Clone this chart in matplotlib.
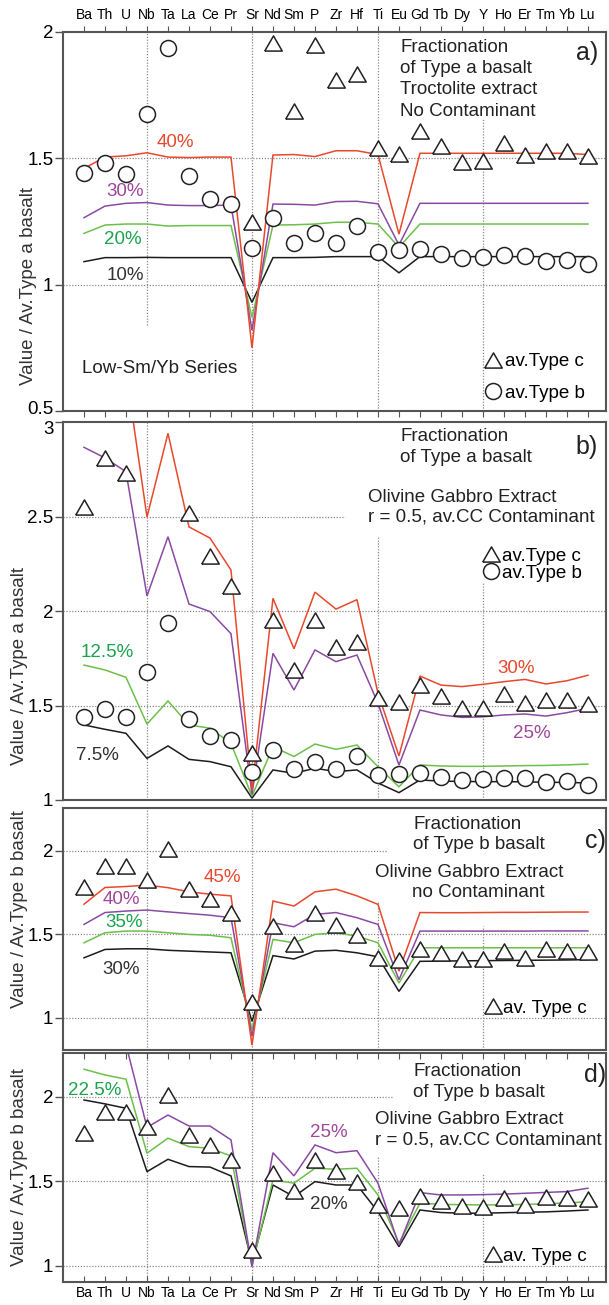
import numpy as np
import matplotlib
matplotlib.use("Agg")
import matplotlib.pyplot as plt
from matplotlib.lines import Line2D
from matplotlib.transforms import ScaledTranslation

plt.rcParams['font.family'] = ['Liberation Sans', 'DejaVu Sans']

nan = np.nan
elements = ["Ba", "Th", "U", "Nb", "Ta", "La", "Ce", "Pr", "Sr", "Nd", "Sm", "P",
            "Zr", "Hf", "Ti", "Eu", "Gd", "Tb", "Dy", "Y", "Ho", "Er", "Tm", "Yb", "Lu"]

# averages normalised to average Type a basalt
typec_vs_a = [2.55, 2.81, 2.73, nan, nan, 2.52, 2.29, 2.13, 1.25, 1.955, 1.686, 1.95, 1.81,
              1.834, 1.54, 1.516, 1.61, 1.55, 1.487, 1.488, 1.56, 1.512, 1.528, 1.528, 1.51]
typeb_vs_a = [1.44, 1.48, 1.437, 1.675, 1.935, 1.43, 1.34, 1.318, 1.146, 1.263, 1.164, 1.203,
              1.164, 1.232, 1.131, 1.137, 1.141, 1.121, 1.104, 1.111, 1.118, 1.114, 1.095,
              1.098, 1.082]
# average Type c normalised to average Type b basalt
typec_vs_b = [1.785, 1.91, 1.912, 1.823, 2.014, 1.773, 1.713, 1.627, 1.094, 1.551, 1.445,
              1.627, 1.559, 1.494, 1.36, 1.345, 1.414, 1.386, 1.354, 1.35, 1.40, 1.36, 1.41,
              1.40, 1.394]

# a) troctolite extract, no contaminant
a_10 = [1.091, 1.107, 1.107, 1.108, 1.107, 1.107, 1.107, 1.107, 0.93, 1.107, 1.107, 1.108,
        1.111, 1.111, 1.111, 1.047, 1.111, 1.111, 1.111, 1.111, 1.111, 1.111, 1.111, 1.111, 1.111]
a_20 = [1.203, 1.236, 1.24, 1.24, 1.232, 1.234, 1.234, 1.234, 0.87, 1.236, 1.237, 1.24,
        1.247, 1.247, 1.24, 1.148, 1.24, 1.24, 1.24, 1.24, 1.24, 1.24, 1.24, 1.24, 1.24]
a_30 = [1.265, 1.311, 1.322, 1.325, 1.315, 1.313, 1.313, 1.315, 0.82, 1.319, 1.318, 1.315,
        1.329, 1.33, 1.32, 1.157, 1.322, 1.322, 1.322, 1.322, 1.322, 1.322, 1.322, 1.322, 1.322]
a_40 = [1.46, 1.505, 1.51, 1.522, 1.505, 1.503, 1.505, 1.505, 0.75, 1.513, 1.515, 1.507,
        1.53, 1.53, 1.515, 1.2, 1.52, 1.52, 1.52, 1.52, 1.52, 1.52, 1.52, 1.52, 1.515]

# b) olivine gabbro extract, r = 0.5, av.CC contaminant (Type a parent)
b_7p5 = [1.397, 1.374, 1.353, 1.22, 1.286, 1.215, 1.203, 1.176, 1.01, 1.159, 1.141, 1.168,
         1.15, 1.159, 1.09, 1.039, 1.106, 1.10, 1.098, 1.097, 1.097, 1.096, 1.094, 1.093, 1.09]
b_12p5 = [1.714, 1.688, 1.649, 1.402, 1.524, 1.397, 1.38, 1.30, 1.02, 1.282, 1.23, 1.296,
          1.268, 1.291, 1.176, 1.07, 1.185, 1.18, 1.178, 1.178, 1.18, 1.182, 1.183, 1.186, 1.19]
b_25 = [2.866, 2.81, 2.737, 2.08, 2.393, 2.037, 1.997, 1.88, 1.03, 1.776, 1.582, 1.794,
        1.732, 1.767, 1.512, 1.185, 1.476, 1.45, 1.437, 1.44, 1.45, 1.455, 1.444, 1.462, 1.485]
b_30 = [3.3, 3.45, 3.27, 2.497, 2.94, 2.445, 2.386, 2.217, 1.05, 2.067, 1.80, 2.10,
        2.01, 2.06, 1.565, 1.233, 1.656, 1.608, 1.60, 1.612, 1.626, 1.638, 1.614, 1.631, 1.66]

# c) olivine gabbro extract, no contaminant (Type b parent)
c_30 = [1.36, 1.41, 1.414, 1.414, 1.405, 1.40, 1.395, 1.39, 0.98, 1.373, 1.353, 1.40,
        1.405, 1.39, 1.366, 1.159, 1.339, 1.34, 1.342, 1.343, 1.344, 1.345, 1.346, 1.347, 1.349]
c_35 = [1.45, 1.51, 1.52, 1.52, 1.51, 1.50, 1.495, 1.48, 0.93, 1.47, 1.45, 1.50,
        1.51, 1.49, 1.45, 1.209, 1.42, 1.42, 1.42, 1.42, 1.42, 1.42, 1.42, 1.42, 1.42]
c_40 = [1.56, 1.631, 1.64, 1.646, 1.635, 1.625, 1.615, 1.60, 0.89, 1.57, 1.546, 1.62,
        1.631, 1.60, 1.56, 1.229, 1.52, 1.52, 1.52, 1.52, 1.52, 1.52, 1.521, 1.521, 1.521]
c_45 = [1.681, 1.781, 1.787, 1.795, 1.78, 1.755, 1.741, 1.731, 0.837, 1.70, 1.67, 1.755,
        1.771, 1.731, 1.68, 1.28, 1.631, 1.63, 1.63, 1.631, 1.632, 1.632, 1.633, 1.634, 1.634]

# d) olivine gabbro extract, r = 0.5, av.CC contaminant (Type b parent)
d_20 = [1.982, 1.959, 1.933, 1.558, 1.631, 1.588, 1.585, 1.533, 1.016, 1.479, 1.41, 1.499,
        1.479, 1.479, 1.321, 1.114, 1.331, 1.316, 1.312, 1.312, 1.315, 1.318, 1.32, 1.325, 1.331]
d_22p5 = [2.164, 2.13, 2.105, 1.667, 1.756, 1.706, 1.696, 1.651, 1.0, 1.509, 1.49, 1.578,
          1.572, 1.578, 1.42, 1.134, 1.371, 1.365, 1.362, 1.361, 1.362, 1.364, 1.368, 1.373, 1.38]
d_25 = [2.36, 2.34, 2.31, 1.82, 1.893, 1.828, 1.828, 1.746, 0.996, 1.67, 1.533, 1.716,
        1.67, 1.682, 1.49, 1.124, 1.434, 1.42, 1.42, 1.422, 1.425, 1.43, 1.435, 1.44, 1.46]

RED, PURPLE, GREEN, BLACK = "#e8482c", "#8a4aa3", "#6cc04a", "#1c1c1c"
T_RED, T_PURPLE, T_GREEN, T_BLACK = "#e8482c", "#a0479a", "#1ba34e", "#333333"
GRID = "#8a8a8a"
SPINE = "#555555"
FS = 13.5

TRI = [(-1, -0.866), (1, -0.866), (0, 0.866), (-1, -0.866)]
x = np.arange(len(elements))

fig = plt.figure(figsize=(6.09, 13.05), dpi=100)
W, H = 609.0, 1305.0
left = 63 / W
width = 543 / W
boxes = {"a": (32, 411), "b": (422, 800), "c": (808, 1050), "d": (1053, 1282)}
axes = {}
for k, (top, bot) in boxes.items():
    axes[k] = fig.add_axes([left, 1 - bot / H, width, (bot - top) / H])

ylims = {"a": (0.5, 2.0), "b": (1.0, 3.0), "c": (0.808, 2.257), "d": (0.905, 2.26)}
yticks = {"a": [0.5, 1, 1.5, 2], "b": [1, 1.5, 2, 2.5, 3], "c": [1, 1.5, 2], "d": [1, 1.5, 2]}


def fmt(v):
    return ("%g" % v)


for k, ax in axes.items():
    ax.set_xlim(-1.0, 24.86)
    ax.set_ylim(*ylims[k])
    ax.set_yticks(yticks[k])
    ax.set_yticklabels([fmt(v) for v in yticks[k]], fontsize=FS)
    ax.tick_params(axis="y", direction="out", length=6, width=1.0, color=SPINE, pad=1)
    for s in ax.spines.values():
        s.set_color(SPINE)
        s.set_linewidth(1.5)
    ax.set_xticks(x)
    ax.tick_params(axis="x", which="both", bottom=False, top=False,
                   labelbottom=False, labeltop=False)

# keep the touching "0.5" and "3" labels apart at the a/b join
lab = axes["a"].get_yticklabels()[0]
lab.set_transform(lab.get_transform() + ScaledTranslation(0, 4 / 100, fig.dpi_scale_trans))
lab = axes["b"].get_yticklabels()[-1]
lab.set_transform(lab.get_transform() + ScaledTranslation(0, -6 / 100, fig.dpi_scale_trans))

gkw = dict(color=GRID, lw=0.9, ls=(0, (1, 1.3)), zorder=1)

# panel a gridlines
ax = axes["a"]
for yv in (1.0, 1.5):
    ax.axhline(yv, **gkw)
ax.vlines(3, 0.84, 2.0, **gkw)
ax.vlines(8, 0.5, 2.0, **gkw)
ax.vlines(14, 0.5, 2.0, **gkw)
ax.vlines(19, 0.5, 1.66, **gkw)
# panel b gridlines
ax = axes["b"]
ax.axhline(1.5, **gkw)
ax.axhline(2.0, **gkw)
ax.axhline(2.5, xmax=(345 - 63) / 543, **gkw)
ax.vlines(3, 1.0, 3.0, **gkw)
ax.vlines(8, 1.0, 3.0, **gkw)
ax.vlines(14, 1.0, 2.39, **gkw)
ax.vlines(19, 1.0, 2.15, **gkw)
# panel c gridlines
ax = axes["c"]
ax.axhline(1.0, **gkw)
ax.axhline(1.5, **gkw)
ax.axhline(2.0, xmax=(388 - 63) / 543, **gkw)
ax.vlines(3, 0.808, 2.257, **gkw)
ax.vlines(8, 0.808, 2.257, **gkw)
ax.vlines(14, 0.808, 1.70, **gkw)
ax.vlines(19, 0.808, 1.55, **gkw)
# panel d gridlines
ax = axes["d"]
ax.axhline(1.0, **gkw)
ax.axhline(1.5, **gkw)
ax.axhline(2.0, xmax=(392 - 63) / 543, **gkw)
ax.vlines(3, 0.905, 2.26, **gkw)
ax.vlines(8, 0.905, 2.26, **gkw)
ax.vlines(14, 0.905, 1.645, **gkw)
ax.vlines(19, 0.905, 1.55, **gkw)

lkw = dict(lw=1.1, zorder=2, solid_joinstyle="miter")
mk_tri = dict(marker=TRI, ms=12.6, mfc="white", mec="#222222", mew=1.1, ls="none", zorder=4)
mk_circ = dict(marker="o", ms=11.5, mfc="white", mec="#222222", mew=1.1, ls="none", zorder=4)

# ---- a)
ax = axes["a"]
for ys, c in ((a_10, BLACK), (a_20, GREEN), (a_30, PURPLE), (a_40, RED)):
    ax.plot(x, ys, color=c, **lkw)
ax.plot(x, typeb_vs_a, **mk_circ)
ax.plot(x, typec_vs_a, **mk_tri)
for s, yv in (("Fractionation", 1.9406), ("of Type a basalt", 1.8575),
              ("Troctolite extract", 1.7705), ("No Contaminant", 1.6834)):
    ax.text(15.05, yv, s, fontsize=FS, ha="left", va="center", color="#222")
ax.text(23.95, 1.917, "a)", fontsize=18, ha="center", va="center", color="#222")
ax.text(4.33, 1.561, "40%", fontsize=FS, color=T_RED, ha="center", va="center")
ax.text(1.98, 1.367, "30%", fontsize=FS, color=T_PURPLE, ha="center", va="center")
ax.text(1.87, 1.177, "20%", fontsize=FS, color=T_GREEN, ha="center", va="center")
ax.text(1.97, 1.038, "10%", fontsize=FS, color=T_BLACK, ha="center", va="center")
ax.text(-0.1, 0.670, "Low-Sm/Yb Series", fontsize=FS, ha="left", va="center", color="#222")
ax.set_ylabel("Value / Av.Type a basalt", fontsize=FS, color="#333")
ax.yaxis.set_label_coords(-0.048, 0.33)
ax.tick_params(axis="x", top=True, labeltop=True, direction="out", length=4,
               color=SPINE, labelsize=10, pad=3)
ax.set_xticklabels(elements)
ax.tick_params(axis="x", bottom=True, direction="out", length=4)

ax.legend([Line2D([], [], **mk_tri), Line2D([], [], **mk_circ)],
          ["av.Type c", "av.Type b"], loc="center left",
          bbox_to_anchor=((483.6 - 63) / 543, 0.0884), frameon=False,
          fontsize=FS, handlelength=1.0, handletextpad=0.15, labelspacing=0.77,
          borderpad=0, borderaxespad=0)

# ---- b)
ax = axes["b"]
for ys, c in ((b_7p5, BLACK), (b_12p5, GREEN), (b_25, PURPLE), (b_30, RED)):
    ax.plot(x, ys, color=c, **lkw)
ax.plot(x, typeb_vs_a, **mk_circ)
ax.plot(x, typec_vs_a, **mk_tri)
for s, xv, yv in (("Fractionation", 15.05, 2.921), ("of Type a basalt", 15.05, 2.810),
                  ("Olivine Gabbro Extract", 13.52, 2.603),
                  ("r = 0.5, av.CC Contaminant", 13.52, 2.497)):
    ax.text(xv, yv, s, fontsize=FS, ha="left", va="center", color="#222")
ax.text(23.95, 2.868, "b)", fontsize=18, ha="center", va="center", color="#222")
ax.text(1.1, 1.783, "12.5%", fontsize=FS, color=T_GREEN, ha="center", va="center")
ax.text(0.62, 1.238, "7.5%", fontsize=FS, color=T_BLACK, ha="center", va="center")
ax.text(20.6, 1.698, "30%", fontsize=FS, color=T_RED, ha="center", va="center")
ax.text(21.33, 1.354, "25%", fontsize=FS, color=T_PURPLE, ha="center", va="center")
ax.set_ylabel("Value / Av.Type a basalt", fontsize=FS, color="#333")
ax.yaxis.set_label_coords(-0.0645, 0.354)
ax.legend([Line2D([], [], **mk_tri), Line2D([], [], **mk_circ)],
          ["av.Type c", "av.Type b"], loc="center left",
          bbox_to_anchor=((481.6 - 63) / 543, 0.623), frameon=False,
          fontsize=FS, handlelength=1.0, handletextpad=0.1, labelspacing=0.0,
          borderpad=0, borderaxespad=0)

# ---- c)
ax = axes["c"]
for ys, c in ((c_30, BLACK), (c_35, GREEN), (c_40, PURPLE), (c_45, RED)):
    ax.plot(x, ys, color=c, **lkw)
ax.plot(x, typec_vs_b, **mk_tri)
for s, xv, yv in (("Fractionation", 15.67, 2.156), ("of Type b basalt", 15.67, 2.036),
                  ("Olivine Gabbro Extract", 13.86, 1.868),
                  ("no Contaminant", 15.62, 1.749)):
    ax.text(xv, yv, s, fontsize=FS, ha="left", va="center", color="#222")
ax.text(24.38, 2.06, "c)", fontsize=18, ha="center", va="center", color="#222")
ax.text(6.6, 1.843, "45%", fontsize=FS, color=T_RED, ha="center", va="center")
ax.text(1.76, 1.711, "40%", fontsize=FS, color=T_PURPLE, ha="center", va="center")
ax.text(1.93, 1.572, "35%", fontsize=FS, color=T_GREEN, ha="center", va="center")
ax.text(1.76, 1.289, "30%", fontsize=FS, color=T_BLACK, ha="center", va="center")
ax.set_ylabel("Value / Av.Type b basalt", fontsize=FS, color="#333")
ax.yaxis.set_label_coords(-0.0645, 0.583)
ax.legend([Line2D([], [], **mk_tri)], ["av. Type c"], loc="center left",
          bbox_to_anchor=((483.6 - 63) / 543, 0.1736), frameon=False,
          fontsize=FS, handlelength=1.0, handletextpad=0.05,
          borderpad=0, borderaxespad=0)

# ---- d)
ax = axes["d"]
for ys, c in ((d_20, BLACK), (d_22p5, GREEN), (d_25, PURPLE)):
    ax.plot(x, ys, color=c, **lkw)
ax.plot(x, typec_vs_b, **mk_tri)
for s, xv, yv in (("Fractionation", 15.67, 2.148), ("of Type b basalt", 15.67, 2.024),
                  ("Olivine Gabbro Extract", 13.86, 1.864),
                  ("r = 0.5, av.CC Contaminant", 13.86, 1.746)):
    ax.text(xv, yv, s, fontsize=FS, ha="left", va="center", color="#222")
ax.text(24.33, 2.13, "d)", fontsize=18, ha="center", va="center", color="#222")
ax.text(0.52, 2.041, "22.5%", fontsize=FS, color=T_GREEN, ha="center", va="center")
ax.text(11.64, 1.787, "25%", fontsize=FS, color=T_PURPLE, ha="center", va="center")
ax.text(11.64, 1.361, "20%", fontsize=FS, color=T_BLACK, ha="center", va="center")
ax.set_ylabel("Value / Av.Type b basalt", fontsize=FS, color="#333")
ax.yaxis.set_label_coords(-0.0645, 0.502)
ax.legend([Line2D([], [], **mk_tri)], ["av. Type c"], loc="center left",
          bbox_to_anchor=((483.6 - 63) / 543, 0.1135), frameon=False,
          fontsize=FS, handlelength=1.0, handletextpad=0.05,
          borderpad=0, borderaxespad=0)
ax.tick_params(axis="x", bottom=True, labelbottom=True, direction="out", length=4,
               color=SPINE, labelsize=10, pad=3)
ax.set_xticklabels(elements)
ax.tick_params(axis="x", top=True, direction="in", length=4)

fig.savefig("out.png", dpi=100)
